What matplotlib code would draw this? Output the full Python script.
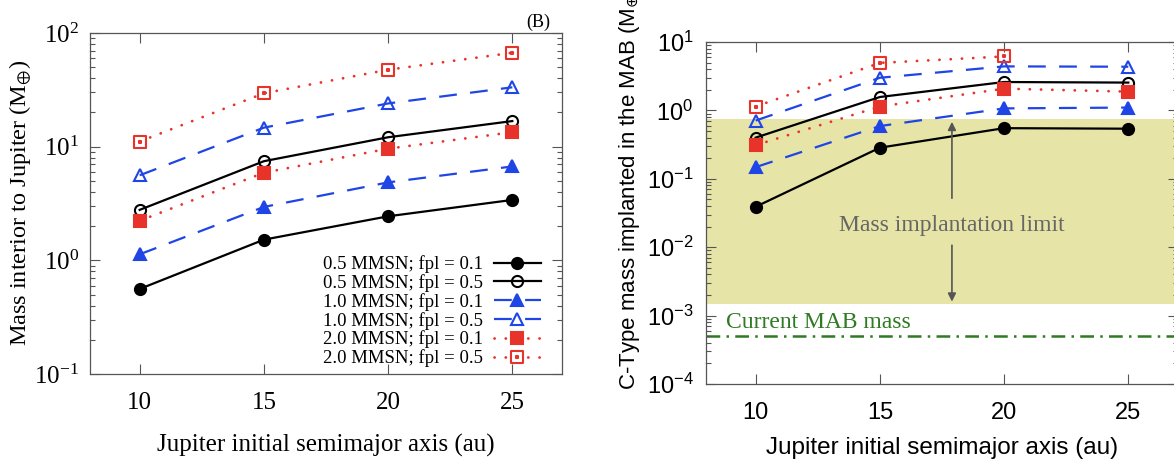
import numpy as np
import matplotlib
matplotlib.use("Agg")
import matplotlib.pyplot as plt
from matplotlib.path import Path
from matplotlib.ticker import LogLocator, NullFormatter, FixedLocator

# Jupiter initial semimajor axis (au)
a_jup = [10, 15, 20, 25]

# (B) mass interior to Jupiter, Earth masses
int_05_f01 = [0.56, 1.52, 2.44, 3.40]
int_05_f05 = [2.78, 7.45, 12.1, 16.8]
int_10_f01 = [1.13, 2.95, 4.85, 6.7]
int_10_f05 = [5.6, 14.7, 24.0, 33.3]
int_20_f01 = [2.23, 5.9, 9.6, 13.4]
int_20_f05 = [11.1, 29.5, 47.5, 67.0]

# C-type mass implanted in the MAB, Earth masses (no 25 au run for 2.0 MMSN, fpl = 0.5)
mab_05_f01 = [0.039, 0.285, 0.55, 0.54]
mab_05_f05 = [0.40, 1.57, 2.6, 2.55]
mab_10_f01 = [0.148, 0.59, 1.07, 1.10]
mab_10_f05 = [0.71, 3.0, 4.4, 4.35]
mab_20_f01 = [0.31, 1.14, 2.08, 1.88]
mab_20_f05 = [1.14, 4.95, 6.15, np.nan]

labels = ["0.5 MMSN; fpl = 0.1", "0.5 MMSN; fpl = 0.5",
          "1.0 MMSN; fpl = 0.1", "1.0 MMSN; fpl = 0.5",
          "2.0 MMSN; fpl = 0.1", "2.0 MMSN; fpl = 0.5"]

implant_lo, implant_hi = 0.0015, 0.76   # mass implantation limit band
current_mab = 5e-4                      # current MAB mass

RED = "#e8332b"
BLUE = "#1f45e6"
GREEN = "#2f7a22"
SHADE = "#e6e4a6"
SPINE = "#555555"

# open square with a dot in the middle, gnuplot style
_v = [(-1, -1), (1, -1), (1, 1), (-1, 1), (-1, -1),
      (-.1, -.1), (.1, -.1), (.1, .1), (-.1, .1), (-.1, -.1)]
_c = [Path.MOVETO, Path.LINETO, Path.LINETO, Path.LINETO, Path.CLOSEPOLY] * 2
dot_square = Path(_v, _c)

dash = (0, (8, 6))
dots = (0, (0.05, 4))
styles = [
    dict(color="k", ls="-", marker="o", mfc="k", ms=8),
    dict(color="k", ls="-", marker="o", mfc="none", ms=8),
    dict(color=BLUE, ls=dash, marker="^", mfc=BLUE, ms=9),
    dict(color=BLUE, ls=dash, marker="^", mfc="none", ms=9),
    dict(color=RED, ls=dots, marker="s", mfc=RED, ms=8, dash_capstyle="round"),
    dict(color=RED, ls=dots, marker=dot_square, mfc="none", ms=8, dash_capstyle="round"),
]

plt.rcParams["font.family"] = "Liberation Serif"

fig = plt.figure(figsize=(11.74, 4.59), dpi=100)
W, H = 1174, 459
axL = fig.add_axes([90 / W, 1 - 374 / H, 472 / W, 341 / H])
axR = fig.add_axes([706 / W, 1 - 384 / H, 472 / W, 342 / H])


def frame(ax, exps, family, size, xpad, ypad, math):
    ax.set_yscale("log")
    ax.set_xlim(8, 27)
    ax.set_ylim(10.0 ** exps[0], 10.0 ** exps[-1])
    ax.xaxis.set_major_locator(FixedLocator(a_jup))
    ax.set_xticklabels([str(v) for v in a_jup], family=family, fontsize=size)
    ax.set_yticks([10.0 ** e for e in exps])
    ax.set_yticklabels([r"$\mathregular{10^{%d}}$" % e for e in exps],
                       family=family, fontsize=size, math_fontfamily=math)
    ax.yaxis.set_minor_locator(LogLocator(base=10, subs=np.arange(2, 10)))
    ax.yaxis.set_minor_formatter(NullFormatter())
    ax.tick_params(which="both", direction="in", top=True, right=True,
                   color=SPINE, width=0.8)
    ax.tick_params(which="major", length=7)
    ax.tick_params(which="minor", length=3.5)
    ax.tick_params(axis="x", pad=xpad)
    ax.tick_params(axis="y", pad=ypad)
    for s in ax.spines.values():
        s.set_color(SPINE)
        s.set_linewidth(0.9)


# ---- left panel: mass interior to Jupiter
frame(axL, [-1, 0, 1, 2], "Liberation Serif", 18, 13, 8, "stix")
left_sets = [int_05_f01, int_05_f05, int_10_f01, int_10_f05, int_20_f01, int_20_f05]
for y, lab, st in zip(left_sets, labels, styles):
    lw = 2.0 if st["ls"] == dots else 1.6
    axL.plot(a_jup, y, lw=lw, mew=1.5, label=lab, **st)

axL.legend(loc="lower right", bbox_to_anchor=(0.955, 0.02), frameon=False,
           markerfirst=False, fontsize=13.5, handlelength=2.5,
           handletextpad=0.6, labelspacing=0.05, borderpad=0, borderaxespad=0)

fig.text(20 / W, 1 - 203 / H, r"Mass interior to Jupiter (M$_{\oplus}$)",
         rotation=90, ha="center", va="center", fontsize=17.5,
         math_fontfamily="stix")
fig.text(326 / W, 1 - 445 / H, "Jupiter initial semimajor axis (au)",
         ha="center", va="center", fontsize=18)
fig.text(538 / W, 1 - 22 / H, "(B)", ha="center", va="center", fontsize=13)

# ---- right panel: C-type mass implanted in the main asteroid belt
frame(axR, [-4, -3, -2, -1, 0, 1], "Liberation Sans", 17, 13, 9, "dejavusans")
axR.axhspan(implant_lo, implant_hi, color=SHADE, lw=0, zorder=0)
axR.axhline(current_mab, color=GREEN, lw=1.8, ls=(0, (5.5, 2.5, 1, 2.5)), zorder=1)

right_sets = [mab_05_f01, mab_05_f05, mab_10_f01, mab_10_f05, mab_20_f01, mab_20_f05]
for y, st in zip(right_sets, styles):
    lw = 2.0 if st["ls"] == dots else 1.6
    axR.plot(a_jup, y, lw=lw, mew=1.5, zorder=3, **st)

arrow_x = 17.9
axR.annotate("", xy=(arrow_x, 0.68), xytext=(arrow_x, 0.052),
             arrowprops=dict(arrowstyle="-|>", color="#555555", lw=1.2,
                             mutation_scale=12, shrinkA=0, shrinkB=0))
axR.annotate("", xy=(arrow_x, 0.0016), xytext=(arrow_x, 0.0107),
             arrowprops=dict(arrowstyle="-|>", color="#555555", lw=1.2,
                             mutation_scale=12, shrinkA=0, shrinkB=0))
axR.text(arrow_x, 0.021, "Mass implantation limit", ha="center", va="center",
         color="#666666", fontsize=17)
axR.text(8.8, 7.8e-4, "Current MAB mass", ha="left", va="center",
         color=GREEN, fontsize=17)

fig.text(630 / W, 1 - 390 / H, r"C-Type mass implanted in the MAB (M$_{\oplus}$)",
         rotation=90, ha="center", va="bottom", fontsize=16,
         family="Liberation Sans")
fig.text(942 / W, 1 - 448 / H, "Jupiter initial semimajor axis (au)",
         ha="center", va="center", fontsize=17.5, family="Liberation Sans")

fig.savefig("out.png", dpi=100)
